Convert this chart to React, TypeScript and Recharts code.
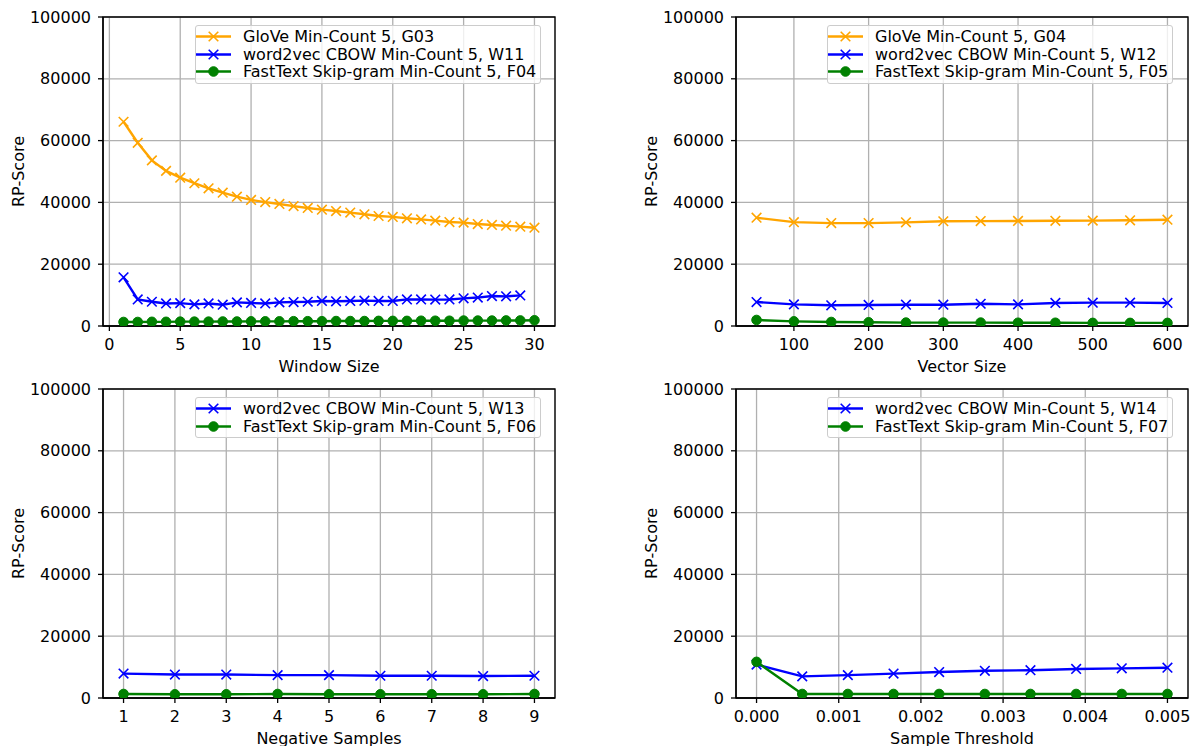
import React from "react"
import { LineChart, Line, XAxis, YAxis, CartesianGrid, Legend, ReferenceArea, Label } from "recharts"

const FONT = "DejaVu Sans"
const ORANGE = "#ffa500"
const BLUE = "#0000ff"
const GREEN = "#008000"

// Window size sweep
const windowSizes = [1, 2, 3, 4, 5, 6, 7, 8, 9, 10, 11, 12, 13, 14, 15, 16, 17, 18, 19, 20, 21, 22, 23, 24, 25, 26, 27, 28, 29, 30]
const gloveWindow = [
  66100, 59300, 53600, 50200, 48000, 46200, 44550, 43150, 41850, 40800, 40100, 39500, 38800, 38200, 37650,
  37200, 36700, 36150, 35600, 35300, 34850, 34500, 34100, 33650, 33450, 33000, 32700, 32450, 32150, 31800,
]
const w2vWindowSizes = [1, 2, 3, 4, 5, 6, 7, 8, 9, 10, 11, 12, 13, 14, 15, 16, 17, 18, 19, 20, 21, 22, 23, 24, 25, 26, 27, 28, 29]
const w2vWindow = [
  15750, 8600, 7850, 7300, 7400, 7000, 7300, 6900, 7650, 7450, 7300, 7650, 7750, 7850, 8100,
  8000, 8100, 8200, 8100, 8100, 8600, 8600, 8550, 8600, 8950, 9200, 9700, 9600, 9900,
]
const ftWindow = [
  1300, 1300, 1350, 1350, 1400, 1400, 1400, 1450, 1450, 1500, 1500, 1500, 1550, 1550, 1550,
  1600, 1600, 1600, 1650, 1650, 1650, 1700, 1700, 1700, 1750, 1750, 1750, 1800, 1800, 1850,
]

// Vector size sweep
const vectorSizes = [50, 100, 150, 200, 250, 300, 350, 400, 450, 500, 550, 600]
const gloveVector = [35050, 33600, 33300, 33300, 33550, 33900, 33950, 34000, 34050, 34100, 34200, 34400]
const w2vVector = [7750, 7000, 6700, 6800, 6900, 6900, 7200, 7000, 7450, 7550, 7550, 7450]
const ftVector = [1950, 1500, 1300, 1200, 1100, 1100, 1100, 1050, 1050, 1000, 1000, 1000]

// Negative samples sweep
const negativeSamples = [1, 2, 3, 4, 5, 6, 7, 8, 9]
const w2vNegative = [7900, 7600, 7600, 7400, 7400, 7200, 7200, 7100, 7200]
const ftNegative = [1300, 1200, 1200, 1300, 1200, 1200, 1200, 1200, 1300]

// Sample threshold sweep
const thresholds = [0, 0.000556, 0.001111, 0.001667, 0.002222, 0.002778, 0.003333, 0.003889, 0.004444, 0.005]
const w2vThreshold = [10800, 7000, 7400, 7900, 8400, 8800, 9000, 9400, 9600, 9800]
const ftThreshold = [11700, 1300, 1300, 1300, 1300, 1300, 1300, 1300, 1300, 1300]

// Axis ticks
const scoreTicks = [0, 20000, 40000, 60000, 80000, 100000]
const windowTicks = [0, 5, 10, 15, 20, 25, 30]
const vectorTicks = [100, 200, 300, 400, 500, 600]
const negativeTicks = [1, 2, 3, 4, 5, 6, 7, 8, 9]
const thresholdTicks = [0, 0.001, 0.002, 0.003, 0.004, 0.005]

type Marker = "x" | "o"
type Series = { name: string; color: string; marker: Marker; xs: number[]; ys: number[] }

const zip = (xs: number[], ys: number[]) => xs.map((x, i) => ({ x, y: ys[i] }))

const drawMarker = (marker: Marker, color: string, cx: number, cy: number, key?: React.Key) => {
  if (marker === "o") {
    return <circle key={key} cx={cx} cy={cy} r={4.8} fill={color} stroke={color} strokeWidth={1} />
  }
  const s = 4.8
  return (
    <path
      key={key}
      d={`M${cx - s},${cy - s}L${cx + s},${cy + s}M${cx - s},${cy + s}L${cx + s},${cy - s}`}
      stroke={color}
      strokeWidth={1.6}
      fill="none"
    />
  )
}

const YTitle = ({ viewBox }: any) => {
  const x = viewBox.x + 24
  const y = viewBox.y + viewBox.height / 2
  return (
    <text x={x} y={y} transform={`rotate(-90, ${x}, ${y})`} textAnchor="middle" fontFamily={FONT} fontSize={16} fill="#000">
      RP-Score
    </text>
  )
}

const XTitle = (text: string) => ({ viewBox }: any) => (
  <text x={viewBox.x + viewBox.width / 2} y={viewBox.y + 46} textAnchor="middle" fontFamily={FONT} fontSize={16} fill="#000">
    {text}
  </text>
)

// legend rows follow the plotting order, not the payload order
const LegendBox = (series: Series[]) => () => (
  <div
    style={{
      display: "inline-block",
      background: "rgba(255,255,255,0.8)",
      border: "1px solid #cccccc",
      borderRadius: 3,
      padding: "2px 4px 2px 0",
      fontFamily: FONT,
      fontSize: 16,
      lineHeight: "17px",
      color: "#000",
    }}
  >
    {series.map((s) => (
      <div key={s.name} style={{ display: "flex", alignItems: "center", height: 17.5, whiteSpace: "nowrap" }}>
        <svg width={35} height={17} style={{ display: "block" }}>
          <line x1={0} y1={8.5} x2={35} y2={8.5} stroke={s.color} strokeWidth={2.4} />
          {drawMarker(s.marker, s.color, 17.5, 8.5)}
        </svg>
        <span style={{ marginLeft: 12 }}>{s.name}</span>
      </div>
    ))}
  </div>
)

type PanelProps = {
  left: number
  top: number
  width: number
  marginRight: number
  legendLeft: number
  xDomain: [number, number]
  xTicks: number[]
  xTitle: string
  series: Series[]
  tickFormat?: (v: number) => string
}

function Panel({ left, top, width, marginRight, legendLeft, xDomain, xTicks, xTitle, series, tickFormat }: PanelProps) {
  const tickStyle = { fill: "#000", fontSize: 16, fontFamily: FONT }
  const tickLine = { stroke: "#000", strokeWidth: 1.3 }
  const axisLine = { stroke: "#000", strokeWidth: 1.3 }
  return (
    <div style={{ position: "absolute", left, top }}>
      <LineChart width={width} height={382} margin={{ top: 17, right: marginRight, bottom: 8, left: 0 }}>
        <CartesianGrid stroke="#b0b0b0" strokeWidth={1.3} />
        <XAxis
          dataKey="x"
          type="number"
          domain={xDomain}
          ticks={xTicks}
          allowDataOverflow
          height={48}
          tick={tickStyle}
          tickLine={tickLine}
          axisLine={axisLine}
          tickSize={5}
          tickMargin={8}
          tickFormatter={tickFormat}
          interval={0}
          label={<Label content={XTitle(xTitle)} />}
        />
        <YAxis
          type="number"
          domain={[0, 100000]}
          ticks={scoreTicks}
          allowDataOverflow
          width={103}
          tick={tickStyle}
          tickLine={tickLine}
          axisLine={axisLine}
          tickSize={5}
          tickMargin={7}
          interval={0}
          label={<Label content={YTitle} />}
        />
        {series.map((s) => (
          <Line
            key={s.name}
            name={s.name}
            data={zip(s.xs, s.ys)}
            dataKey="y"
            stroke={s.color}
            strokeWidth={2.4}
            isAnimationActive={false}
            dot={(p: any) => drawMarker(s.marker, s.color, p.cx, p.cy, p.index)}
            activeDot={false}
          />
        ))}
        <ReferenceArea
          x1={xDomain[0]}
          x2={xDomain[1]}
          y1={0}
          y2={100000}
          fill="none"
          stroke="#000"
          strokeWidth={1.3}
          ifOverflow="visible"
        />
        <Legend
          layout="horizontal"
          align="center"
          verticalAlign="middle"
          wrapperStyle={{ left: legendLeft, top: 25, width: "auto", height: "auto" }}
          content={LegendBox(series)}
        />
      </LineChart>
    </div>
  )
}

export default function App() {
  const windowSeries: Series[] = [
    { name: "GloVe Min-Count 5, G03", color: ORANGE, marker: "x", xs: windowSizes, ys: gloveWindow },
    { name: "word2vec CBOW Min-Count 5, W11", color: BLUE, marker: "x", xs: w2vWindowSizes, ys: w2vWindow },
    { name: "FastText Skip-gram Min-Count 5, F04", color: GREEN, marker: "o", xs: windowSizes, ys: ftWindow },
  ]
  const vectorSeries: Series[] = [
    { name: "GloVe Min-Count 5, G04", color: ORANGE, marker: "x", xs: vectorSizes, ys: gloveVector },
    { name: "word2vec CBOW Min-Count 5, W12", color: BLUE, marker: "x", xs: vectorSizes, ys: w2vVector },
    { name: "FastText Skip-gram Min-Count 5, F05", color: GREEN, marker: "o", xs: vectorSizes, ys: ftVector },
  ]
  const negativeSeries: Series[] = [
    { name: "word2vec CBOW Min-Count 5, W13", color: BLUE, marker: "x", xs: negativeSamples, ys: w2vNegative },
    { name: "FastText Skip-gram Min-Count 5, F06", color: GREEN, marker: "o", xs: negativeSamples, ys: ftNegative },
  ]
  const thresholdSeries: Series[] = [
    { name: "word2vec CBOW Min-Count 5, W14", color: BLUE, marker: "x", xs: thresholds, ys: w2vThreshold },
    { name: "FastText Skip-gram Min-Count 5, F07", color: GREEN, marker: "o", xs: thresholds, ys: ftThreshold },
  ]

  return (
    <div style={{ position: "absolute", left: 0, top: 0, width: 1190, height: 746, overflow: "hidden", background: "#fff" }}>
      <Panel left={0} top={0} width={595} marginRight={40} legendLeft={195} xDomain={[-0.45, 31.45]} xTicks={windowTicks} xTitle="Window Size" series={windowSeries} />
      <Panel left={633} top={0} width={557} marginRight={2} legendLeft={194} xDomain={[22.5, 627.5]} xTicks={vectorTicks} xTitle="Vector Size" series={vectorSeries} />
      <Panel left={0} top={372} width={595} marginRight={40} legendLeft={195} xDomain={[0.6, 9.4]} xTicks={negativeTicks} xTitle="Negative Samples" series={negativeSeries} />
      <Panel
        left={633}
        top={372}
        width={557}
        marginRight={2}
        legendLeft={194}
        xDomain={[-0.00025, 0.00525]}
        xTicks={thresholdTicks}
        xTitle="Sample Threshold"
        series={thresholdSeries}
        tickFormat={(v) => v.toFixed(3)}
      />
    </div>
  )
}
